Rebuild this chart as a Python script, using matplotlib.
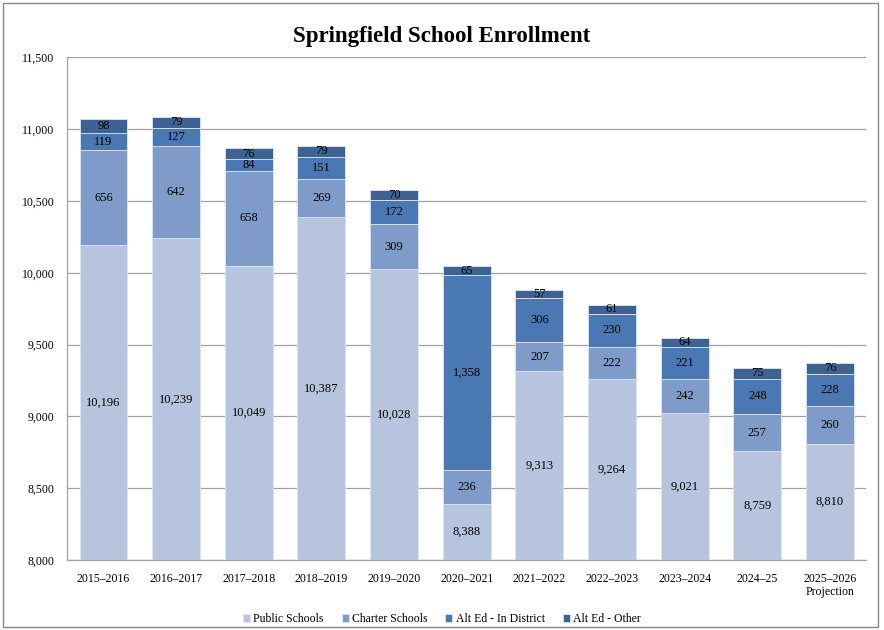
import numpy as np
import matplotlib
matplotlib.use("Agg")
import matplotlib.pyplot as plt
from matplotlib.patches import Rectangle

plt.rcParams['font.family'] = ['Liberation Serif', 'DejaVu Serif']

# Datos del gráfico
years = ['2015–2016', '2016–2017', '2017–2018', '2018–2019', '2019–2020', '2020–2021',
         '2021–2022', '2022–2023', '2023–2024', '2024–25', '2025–2026\nProjection']
public = [10196, 10239, 10049, 10387, 10028, 8388, 9313, 9264, 9021, 8759, 8810]
charter = [656, 642, 658, 269, 309, 236, 207, 222, 242, 257, 260]
alt_district = [119, 127, 84, 151, 172, 1358, 306, 230, 221, 248, 228]
alt_other = [98, 79, 76, 79, 70, 65, 57, 61, 64, 75, 76]

series = [public, charter, alt_district, alt_other]
names = ['Public Schools', 'Charter Schools', 'Alt Ed - In District', 'Alt Ed - Other']
colores = ['#b7c4de', '#7f9bc9', '#4a78b2', '#3d6393']

ymin, ymax = 8000, 11500

fig = plt.figure(figsize=(8.84, 6.3), dpi=100)
ax = fig.add_axes([0.076, 0.111, 0.904, 0.798])

x = np.arange(len(years))
bottom = np.zeros(len(years))
for vals, name, c in zip(series, names, colores):
    vals = np.array(vals)
    ax.bar(x, vals, 0.66, bottom=bottom, color=c, edgecolor='#dfe5f0',
           linewidth=0.6, label=name, zorder=3)
    # etiquetas centradas en la parte visible
    for i in range(len(years)):
        lo = max(bottom[i], ymin)
        hi = bottom[i] + vals[i]
        ax.text(x[i], (lo + hi) / 2, f'{vals[i]:,}', ha='center', va='center',
                fontsize=9, zorder=4)
    bottom = bottom + vals

ax.set_ylim(ymin, ymax)
ax.set_xlim(-0.5, len(years) - 0.5)
ax.set_yticks(np.arange(8000, 11501, 500))
ax.set_yticklabels([f'{v:,}' for v in range(8000, 11501, 500)])
ax.set_xticks(x)
ax.set_xticklabels(years)
ax.tick_params(axis='both', length=0, labelsize=8.5, pad=9)
ax.yaxis.grid(True, color='#a0a0a0', linewidth=0.9, zorder=0)
for s in ['top', 'right']:
    ax.spines[s].set_visible(False)
for s in ['left', 'bottom']:
    ax.spines[s].set_color('#a0a0a0')
    ax.spines[s].set_linewidth(0.9)

fig.suptitle('Springfield School Enrollment', y=0.958, fontsize=16.5, fontweight='bold')

fig.legend(loc='lower center', bbox_to_anchor=(0.5, -0.009), ncol=4, frameon=False,
           fontsize=8.5, handlelength=0.6, handleheight=0.6, handletextpad=0.3,
           columnspacing=1.5)

# borde de la figura
fig.patches.append(Rectangle((0.003, 0.005), 0.99, 0.99, transform=fig.transFigure,
                             fill=False, edgecolor='#888888', linewidth=1))

plt.savefig('out.png', dpi=100)
